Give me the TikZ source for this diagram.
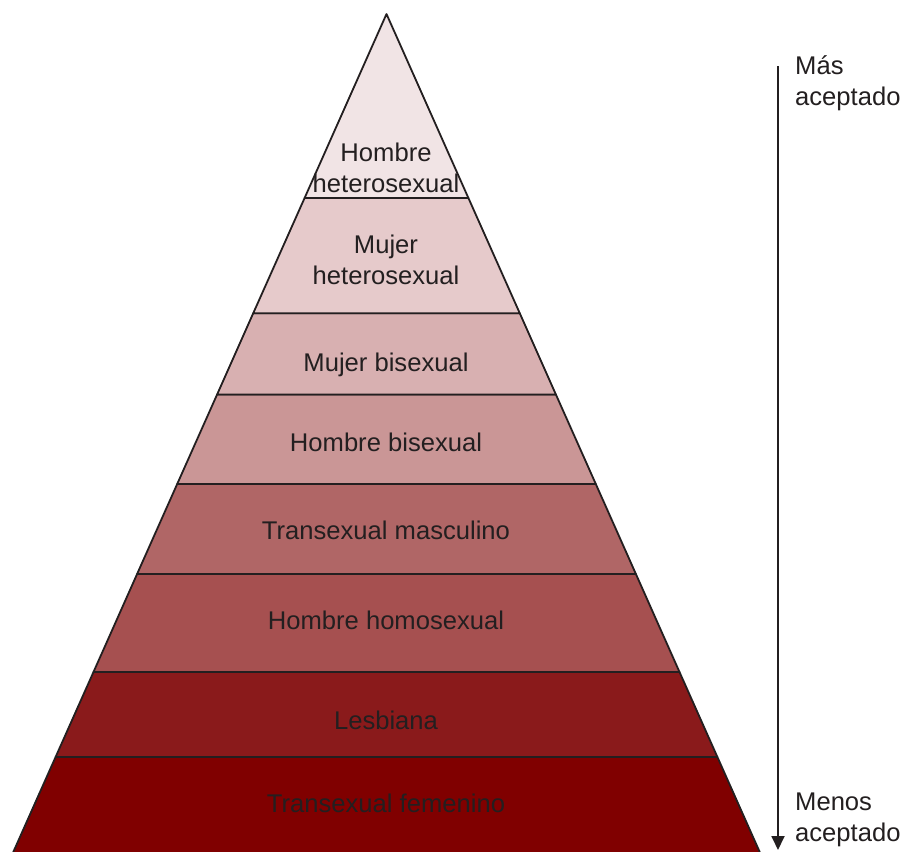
\documentclass[tikz,border=0pt]{standalone}
\usepackage{fontspec}
\setmainfont{Liberation Sans}
\usetikzlibrary{arrows.meta}
\definecolor{ink}{HTML}{231F20}
\definecolor{lA}{HTML}{F1E4E5}
\definecolor{lB}{HTML}{E6CACB}
\definecolor{lC}{HTML}{D8B0B1}
\definecolor{lD}{HTML}{CA9696}
\definecolor{lE}{HTML}{B06666}
\definecolor{lF}{HTML}{A65050}
\definecolor{lG}{HTML}{8A1A1B}
\definecolor{lH}{HTML}{800000}
\begin{document}
\begin{tikzpicture}[x=1pt,y=-1pt,
  layer/.style={draw=ink,line width=1.8pt,line join=round},
  lbl/.style={font=\fontsize{25.6}{30.5}\selectfont,text=ink,inner sep=0pt,anchor=base,align=center},
  side/.style={font=\fontsize{25.6}{31}\selectfont,text=ink,inner sep=0pt,anchor=base west,align=left}]
\useasboundingbox (0,0) rectangle (903,852);
% layers (bottom first)
\path[layer,fill=lH] (55.6,757) -- (717.4,757) -- (761.5,856) -- (11.5,856) -- cycle;
\path[layer,fill=lG] (93.5,672) -- (679.5,672) -- (717.4,757) -- (55.6,757) -- cycle;
\path[layer,fill=lF] (137.1,574) -- (635.9,574) -- (679.5,672) -- (93.5,672) -- cycle;
\path[layer,fill=lE] (177.2,484) -- (595.8,484) -- (635.9,574) -- (137.1,574) -- cycle;
\path[layer,fill=lD] (217.1,394.5) -- (555.9,394.5) -- (595.8,484) -- (177.2,484) -- cycle;
\path[layer,fill=lC] (253.2,313.3) -- (519.8,313.3) -- (555.9,394.5) -- (217.1,394.5) -- cycle;
\path[layer,fill=lB] (304.6,198) -- (468.4,198) -- (519.8,313.3) -- (253.2,313.3) -- cycle;
\path[layer,fill=lA] (386.5,14) -- (468.4,198) -- (304.6,198) -- cycle;
% labels (multi-line nodes: base = last line)
\node[lbl] (t1) at (386,192) {Hombre\\heterosexual};
\node[lbl] (t2) at (386,284) {Mujer\\heterosexual};
\node[lbl] (t3) at (386,371) {Mujer bisexual};
\node[lbl] (t4) at (386,451) {Hombre bisexual};
\node[lbl] (t5) at (386,539.3) {Transexual masculino};
\node[lbl] (t6) at (386,629.3) {Hombre homosexual};
\node[lbl] (t7) at (386,729) {Lesbiana};
\node[lbl] (t8) at (386,812) {Transexual femenino};
% arrow
\coordinate (atop) at (778,66);
\coordinate (abot) at (778,850);
\draw[ink,line width=1.8pt,-{Triangle[length=14pt,width=13pt]}] (atop) -- (abot);
\node[side] (more) at (795,105.5) {Más\\aceptado};
\node[side] (less) at (795,841) {Menos\\aceptado};
\end{tikzpicture}
\end{document}
